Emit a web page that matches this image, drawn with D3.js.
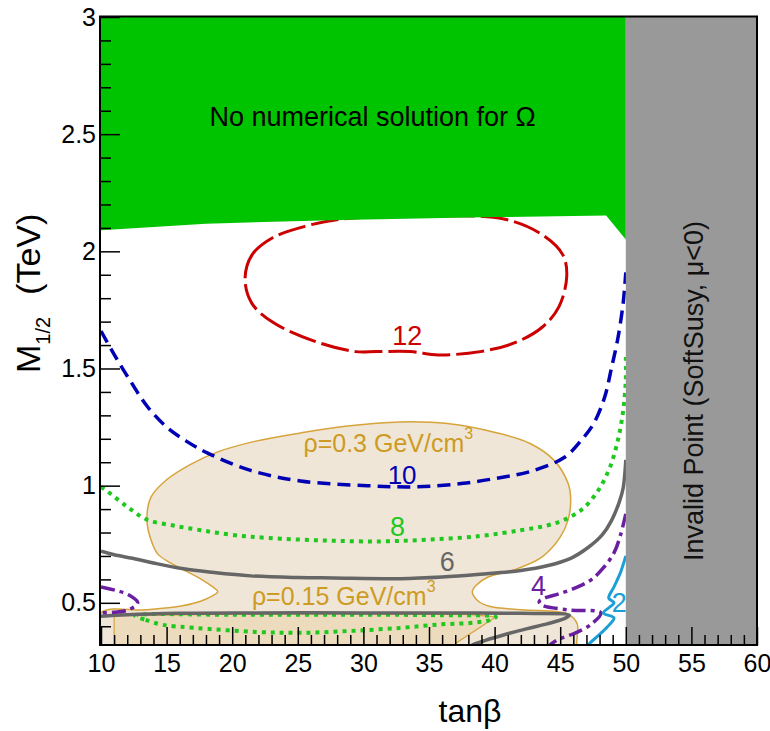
<!DOCTYPE html>
<html>
<head>
<meta charset="utf-8">
<script src="https://cdn.jsdelivr.net/npm/d3@7"></script>
<style>
  body { margin: 0; background: #fff; }
  svg text { font-family: "Liberation Sans", Arial, Helvetica, sans-serif; }
</style>
</head>
<body>
<svg id="chart" width="770" height="731"></svg>
<script>
// ---- axes ----
const xDomain = [10, 60];
const yDomain = [0.32, 3];
const xTickValues = [10, 15, 20, 25, 30, 35, 40, 45, 50, 55, 60];
const xTickLabels = ["10", "15", "20", "25", "30", "35", "40", "45", "50", "55", "60"];
const yTickValues = [0.5, 1, 1.5, 2, 2.5, 3];
const yTickLabels = ["0.5", "1", "1.5", "2", "2.5", "3"];

// ---- excluded regions (tanβ, M1/2 in TeV) ----
const noSolutionEdge = [[10, 3.05], [10, 2.09], [18, 2.118], [28.3, 2.134], [40, 2.146], [48.5, 2.153], [50, 2.05], [50, 3.05]];
const invalidTanBeta = [50, 60];

// ---- local dark-matter density regions ----
const rho03Edge = [
  [10, 0.30], [10, 0.457], [13.4, 0.47], [16, 0.485], [17.2, 0.50], [18.5, 0.53], [18.9, 0.547],
  [18.3, 0.577], [17.5, 0.605], [16.6, 0.632], [15.3, 0.67], [14.3, 0.71], [13.8, 0.77],
  [13.5, 0.854], [13.8, 0.95], [15.0, 1.025], [16.8, 1.09], [18.9, 1.144], [21.8, 1.19],
  [25.2, 1.225], [28.8, 1.255], [32.8, 1.272], [36.4, 1.265], [40.2, 1.225], [42.7, 1.18],
  [44.5, 1.11], [45.6, 1.01], [45.8, 0.94], [45.6, 0.854], [45.0, 0.78], [43.6, 0.695],
  [41.5, 0.641], [39.5, 0.61], [38.6, 0.575], [38.3, 0.547], [38.7, 0.51], [39.6, 0.485],
  [42.1, 0.47], [45.6, 0.452], [46.3, 0.41], [46.3, 0.36], [46.2, 0.30]
];
const rho015Edge = [[11, 0.30], [11, 0.445], [20, 0.452], [30, 0.453], [38, 0.451], [40.1, 0.44], [37.1, 0.33], [36.8, 0.30]];

// ---- iso-contours ----
const contour12 = [
  [20.98, 1.881], [21.5, 1.984], [23.08, 2.058], [25.7, 2.109], [28.35, 2.138], [34.5, 2.15],
  [40.7, 2.138], [43.6, 2.072], [45.2, 1.985], [45.5, 1.895], [44.9, 1.763], [43.6, 1.675],
  [41.5, 1.609], [38.9, 1.572], [35.7, 1.558], [33.6, 1.572], [31.0, 1.572], [29.4, 1.572],
  [26.2, 1.618], [23.1, 1.697], [21.5, 1.778]
];
const contour10 = [
  [10, 1.66], [11, 1.56], [12.2, 1.45], [13.5, 1.34], [15.0, 1.25], [16.5, 1.19], [18.1, 1.14],
  [21.4, 1.065], [25.2, 1.02], [30.3, 1.0], [34, 0.995], [37.6, 1.01], [40.5, 1.035],
  [42.7, 1.06], [45.3, 1.12], [46.7, 1.2], [47.6, 1.27], [48.4, 1.38], [48.9, 1.5],
  [49.4, 1.63], [49.8, 1.78], [50, 1.91]
];
const contour8 = [
  [10, 0.995], [10.5, 0.975], [12, 0.91], [13.5, 0.855], [15.5, 0.83], [17.6, 0.81], [20, 0.79],
  [22.7, 0.777], [27, 0.766], [31.3, 0.762], [35, 0.77], [38.9, 0.785], [42, 0.81], [44, 0.83],
  [45.3, 0.854], [46.7, 0.9], [47.9, 0.98], [48.8, 1.08], [49.4, 1.195], [49.8, 1.32],
  [50, 1.45], [50, 1.55]
];
const contour8Low = [
  [12.6, 0.445], [13.4, 0.427], [14.7, 0.406], [17.2, 0.393], [21.8, 0.376], [25.2, 0.372],
  [29, 0.38], [32.8, 0.393], [35.9, 0.408], [38.4, 0.415], [39.7, 0.427], [40.1, 0.44],
  [36, 0.447], [30, 0.449], [20, 0.449]
];
const contour6 = [
  [10, 0.72], [11, 0.705], [12.4, 0.69], [14, 0.67], [16.3, 0.645], [18.5, 0.63], [21.4, 0.615],
  [25, 0.608], [27.7, 0.606], [32.8, 0.603], [36, 0.61], [38.9, 0.622], [42, 0.638], [44.0, 0.658],
  [45.8, 0.69], [47.1, 0.735], [48.2, 0.79], [48.9, 0.85], [49.5, 0.93], [49.8, 0.99], [50, 1.11]
];
const contour6Low = [
  [10, 0.443], [12, 0.449], [16, 0.455], [20, 0.457], [30, 0.457], [38, 0.457], [42, 0.455],
  [45.7, 0.447], [45.2, 0.43], [44, 0.41], [42.5, 0.39], [40.8, 0.365], [39.3, 0.34], [38.3, 0.32], [38.0, 0.31]
];
const contour4Left = [[10, 0.568], [11.2, 0.552], [12.1, 0.534], [12.8, 0.50], [12.1, 0.47], [11, 0.46], [10, 0.457]];
const contour4Right = [
  [50, 0.88], [49.6, 0.79], [49.1, 0.713], [48.3, 0.65], [47.4, 0.6], [46.3, 0.567], [45, 0.54],
  [43.8, 0.52], [43.4, 0.505], [43.6, 0.49], [45.6, 0.47], [48.1, 0.457], [47.3, 0.406],
  [46.1, 0.37], [44.8, 0.342], [44.0, 0.31]
];
const contour2 = [
  [50, 0.70], [49.6, 0.63], [49.1, 0.568], [48.7, 0.52], [49.1, 0.50], [48.3, 0.457], [49.1, 0.436],
  [48.6, 0.398], [47.9, 0.36], [47.3, 0.33], [47.0, 0.31]
];

// ---- drawing ----
const plotLeft = 101, plotRight = 757, plotTop = 17, plotBottom = 645;
const svg = d3.select("#chart");
const x = d3.scaleLinear().domain(xDomain).range([plotLeft, plotRight]);
const y = d3.scaleLinear().domain(yDomain).range([plotBottom, plotTop]);

svg.append("defs").append("clipPath").attr("id", "plot-clip")
  .append("rect").attr("x", plotLeft).attr("y", plotTop)
  .attr("width", plotRight - plotLeft).attr("height", plotBottom - plotTop);

const plot = svg.append("g").attr("clip-path", "url(#plot-clip)");

const smooth = d3.line().x(d => x(d[0])).y(d => y(d[1])).curve(d3.curveCatmullRom.alpha(0.5));
const smoothClosed = d3.line().x(d => x(d[0])).y(d => y(d[1])).curve(d3.curveCatmullRomClosed.alpha(0.5));
const straight = d3.line().x(d => x(d[0])).y(d => y(d[1]));

const orange = "#d6a43a";

// ρ = 0.3 GeV/cm³ region
plot.append("path").attr("d", smooth(rho03Edge) + "Z")
  .attr("fill", "#f0e6d7").attr("stroke", orange).attr("stroke-width", 1.5);
// ρ = 0.15 GeV/cm³ band
plot.append("path").attr("d", straight(rho015Edge) + "Z")
  .attr("fill", "#ecdcbd").attr("stroke", orange).attr("stroke-width", 1.2);

// contour 12 sits partly under the no-solution area
plot.append("path").attr("d", smoothClosed(contour12))
  .attr("fill", "none").attr("stroke", "#cc0000").attr("stroke-width", 3)
  .attr("stroke-dasharray", "28,6");

// no numerical solution for Ω
plot.append("path").attr("d", straight(noSolutionEdge) + "Z").attr("fill", "#00c400");

function contour(data, color, width, dash, closed) {
  plot.append("path").attr("d", closed ? smoothClosed(data) : smooth(data))
    .attr("fill", "none").attr("stroke", color).attr("stroke-width", width)
    .attr("stroke-dasharray", dash || null).attr("stroke-linejoin", "round");
}
contour(contour10, "#0000b4", 3.5, "13,7");
contour(contour8, "#1ec81e", 4, "4,5");
contour(contour8Low, "#1ec81e", 4, "4,5", true);
contour(contour6, "#666666", 3.5);
contour(contour6Low, "#666666", 3.5);
contour(contour4Left, "#6a1ea0", 3.5, "14,5,4,5");
contour(contour4Right, "#6a1ea0", 3.5, "14,5,4,5");
contour(contour2, "#1a9fd6", 3);

// invalid point region
plot.append("rect")
  .attr("x", x(invalidTanBeta[0])).attr("y", plotTop)
  .attr("width", x(invalidTanBeta[1]) - x(invalidTanBeta[0])).attr("height", plotBottom - plotTop)
  .attr("fill", "#999999");

// ---- labels ----
function label(text, px, py, color, size) {
  return svg.append("text").attr("x", x(px)).attr("y", y(py))
    .attr("text-anchor", "middle").attr("dominant-baseline", "central")
    .attr("fill", color).attr("font-size", size).text(text);
}
label("No numerical solution for Ω", 30.7, 2.574, "#000", 27);
label("12", 33.35, 1.64, "#cc0000", 27);
label("10", 32.95, 1.047, "#0000b4", 26);
label("8", 32.6, 0.824, "#1ec81e", 27);
label("6", 36.4, 0.675, "#666666", 27);
label("4", 43.35, 0.57, "#6a1ea0", 27);
label("2", 49.5, 0.50, "#1a9fd6", 27);

function rhoLabel(value, px, py) {
  const t = svg.append("text").attr("x", x(px)).attr("y", y(py))
    .attr("text-anchor", "middle").attr("dominant-baseline", "central")
    .attr("fill", "#cd9b23").attr("font-size", 25);
  t.append("tspan").text("ρ=" + value + " GeV/cm");
  t.append("tspan").attr("font-size", 16).attr("dy", -10).text("3");
}
rhoLabel("0.3", 31.9, 1.18);
rhoLabel("0.15", 28.5, 0.53);

svg.append("text")
  .attr("transform", "translate(703,391) rotate(-90)")
  .attr("text-anchor", "middle").attr("font-size", 27).attr("fill", "#111")
  .text("Invalid Point (SoftSusy, μ<0)");

// ---- axes ----
const xMinor = d3.range(10, 61).filter(v => v % 5 !== 0);
const yMinor = d3.range(4, 30).filter(v => v % 5 !== 0).map(v => v / 10);

function styleAxis(g) {
  g.select(".domain").remove();
  g.selectAll("line").attr("stroke", "#000").attr("stroke-width", 1.5);
  g.attr("font-family", "'Liberation Sans', Arial, sans-serif").attr("font-size", 25);
  g.selectAll("text").attr("fill", "#000");
}

svg.append("g").attr("transform", `translate(0,${plotBottom})`)
  .call(d3.axisBottom(x).tickValues(xMinor).tickFormat("").tickSizeInner(-10).tickSizeOuter(0))
  .call(styleAxis);
svg.append("g").attr("transform", `translate(0,${plotBottom})`)
  .call(d3.axisBottom(x).tickValues(xTickValues).tickFormat((d, i) => xTickLabels[i])
    .tickSizeInner(-18).tickSizeOuter(0).tickPadding(9))
  .call(styleAxis);
svg.append("g").attr("transform", `translate(${plotLeft},0)`)
  .call(d3.axisLeft(y).tickValues(yMinor).tickFormat("").tickSizeInner(-10).tickSizeOuter(0))
  .call(styleAxis);
svg.append("g").attr("transform", `translate(${plotLeft},0)`)
  .call(d3.axisLeft(y).tickValues(yTickValues).tickFormat((d, i) => yTickLabels[i])
    .tickSizeInner(-19).tickSizeOuter(0).tickPadding(5))
  .call(styleAxis);

// frame
svg.append("rect").attr("x", plotLeft - 1).attr("y", plotTop - 0.5)
  .attr("width", plotRight - plotLeft + 1).attr("height", plotBottom - plotTop + 0.5)
  .attr("fill", "none").attr("stroke", "#000").attr("stroke-width", 2);

// axis titles
svg.append("text").attr("x", 470).attr("y", 722).attr("text-anchor", "middle")
  .attr("font-size", 32).attr("fill", "#000").text("tanβ");

const yTitle = svg.append("text")
  .attr("transform", "translate(40,373) rotate(-90)")
  .attr("font-size", 34).attr("fill", "#000");
yTitle.append("tspan").text("M");
yTitle.append("tspan").attr("font-size", 20).attr("dy", 10).text("1/2");
yTitle.append("tspan").attr("dy", -10).attr("dx", 22).text("(TeV)");
</script>
</body>
</html>
